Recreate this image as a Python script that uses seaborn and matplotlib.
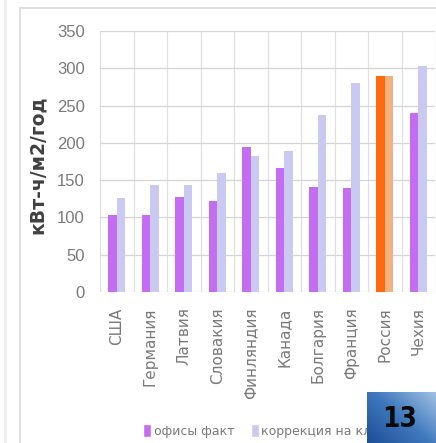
import numpy as np
import pandas as pd
import matplotlib
matplotlib.use("Agg")
import matplotlib.pyplot as plt
import seaborn as sns
from matplotlib.patches import Patch

countries = ["США", "Германия", "Латвия", "Словакия", "Финляндия", "Канада",
             "Болгария", "Франция", "Россия", "Чехия"]
fact = [103, 103, 128, 122, 194, 166, 141, 139, 290, 240]
corr = [126, 143, 143, 160, 182, 189, 237, 280, 290, 303]
series = ["офисы факт", "коррекция на кл"]
yticks = [0, 50, 100, 150, 200, 250, 300, 350]

df = pd.DataFrame({
    "country": countries * 2,
    "value": fact + corr,
    "series": [series[0]] * len(countries) + [series[1]] * len(countries),
})

sns.set_theme(style="white")
plt.rcParams["font.family"] = ["DejaVu Sans"]

fig = plt.figure(figsize=(4.36, 4.43), dpi=100)
# outer frame lines
fig.add_artist(plt.Line2D([20/436, 20/436], [0, 1-8/443], color="#d9d9d9", lw=1.2))
fig.add_artist(plt.Line2D([20/436, 1], [1-8/443, 1-8/443], color="#d9d9d9", lw=1.2))
fig.add_artist(plt.Line2D([5/436, 5/436], [0, 1], color="#ececec", lw=2))

ax = fig.add_axes([100/436, 1-292/443, 335/436, (292-31)/443])
pal = {series[0]: "#c46cf2", series[1]: "#c9c9f2"}
sns.barplot(data=df, x="country", y="value", hue="series", palette=pal,
            width=0.5, ax=ax, legend=False, saturation=1, linewidth=0)

# Russia highlighted
ridx = countries.index("Россия")
ax.containers[0][ridx].set_facecolor("#ff6a0d")
ax.containers[1][ridx].set_facecolor("#f5b07f")

ax.set_ylim(0, 350)
ax.set_xlim(-0.5, len(countries) - 0.5)
ax.set_yticks(yticks)
ax.set_yticklabels([str(t) for t in yticks], fontsize=12, color="#7a7a7a",
                   family=["Liberation Sans Narrow", "Liberation Sans"])
ax.set_xticks(range(len(countries)))
ax.set_xticklabels(countries, rotation=90, fontsize=11, color="#7a7a7a",
                   family="DejaVu Sans")
ax.set_xticks(np.arange(-0.5, len(countries), 1), minor=True)
ax.tick_params(axis="both", which="both", length=0)
ax.tick_params(axis="y", pad=11)
ax.tick_params(axis="x", pad=11)
ax.grid(axis="y", color="#d5d5d5", lw=0.9)
ax.grid(axis="x", which="minor", color="#e0e0e0", lw=0.9)
ax.set_axisbelow(True)
for s in ax.spines.values():
    s.set_visible(False)
ax.set_xlabel("")
ax.set_ylabel("")

fig.text(37/436, 1-165/443, "кВт-ч/м2/год", rotation=90, ha="center", va="center",
         fontsize=13.5, fontweight="bold", color="#404040", family="DejaVu Sans")

handles = [Patch(facecolor=pal[series[0]]), Patch(facecolor=pal[series[1]])]
fig.legend(handles, series, loc="center left", bbox_to_anchor=(143/436, 1-431/443),
           ncol=2, frameon=False, handlelength=0.65, handleheight=1.2,
           handletextpad=0.2, columnspacing=1.3, labelcolor="#7a7a7a",
           borderaxespad=0, borderpad=0, prop={"family": "DejaVu Sans", "size": 9})

# slide number badge
bax = fig.add_axes([367/436, 0, 69/436, 51/443])
gx = np.linspace(0, 1, 60)
gy = np.linspace(0, 1, 60)
X, Y = np.meshgrid(gx, gy)
grad = 0.55 * X + 0.45 * (1 - Y)
cmap = matplotlib.colors.LinearSegmentedColormap.from_list(
    "b", ["#1d4f96", "#3f78bd", "#9fc0e2"])
bax.imshow(grad, cmap=cmap, aspect="auto", extent=[0, 1, 0, 1], origin="upper")
bax.set_xlim(0, 1)
bax.set_ylim(0, 1)
bax.axis("off")
bax.text(0.47, 0.48, "13", ha="center", va="center", fontsize=20, fontweight="bold",
         fontstretch="condensed", family="DejaVu Sans", color="#0a0a0a")
bax.set_zorder(10)

fig.savefig("out.png", dpi=100)
